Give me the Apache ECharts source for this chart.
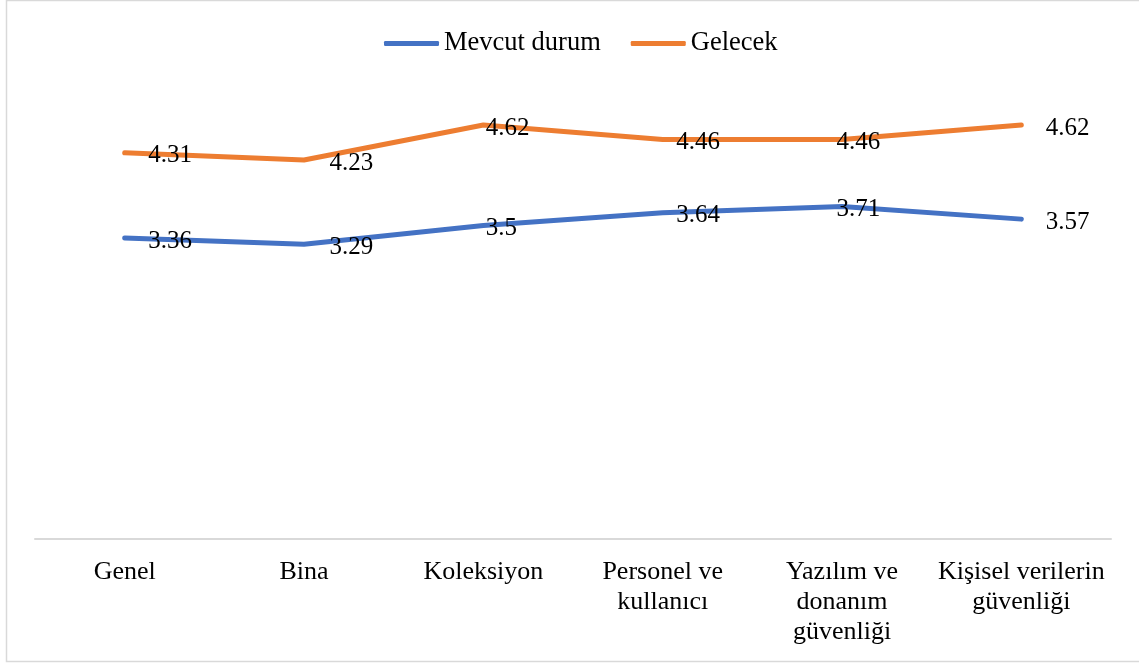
<!DOCTYPE html>
<html>
<head>
<meta charset="utf-8">
<script src="https://cdn.jsdelivr.net/npm/echarts@6/dist/echarts.min.js"></script>
<style>
  html, body { margin: 0; padding: 0; background: #fff; }
  #chart { width: 1139px; height: 664px; }
</style>
</head>
<body>
<div id="chart"></div>
<script>
// kategoriler ve seriler
var categories = ['Genel', 'Bina', 'Koleksiyon', 'Personel ve\nkullanıcı', 'Yazılım ve\ndonanım\ngüvenliği', 'Kişisel verilerin\ngüvenliği'];
var mevcut = [3.36, 3.29, 3.5, 3.64, 3.71, 3.57];
var gelecek = [4.31, 4.23, 4.62, 4.46, 4.46, 4.62];
// etiketlerin yatay kaydırması (Excel'deki gibi)
var labelShift = [23, 25, 2, 13, -6, 24];

var font = "'Liberation Serif', 'Times New Roman', serif";

function withLabels(values) {
	return values.map(function(v, i) {
		return { value: v, label: { offset: [labelShift[i], 3] } };
	});
}

var chart = echarts.init(document.getElementById('chart'));

var option = {
	backgroundColor: '#fff',
	animation: false,
	textStyle: { fontFamily: font },
	graphic: [
		{
			type: 'rect',
			shape: { x: 6.5, y: 0.5, width: 1140, height: 661 },
			style: { fill: 'none', stroke: '#d9d9d9', lineWidth: 1.5 },
			silent: true
		}
	],
	legend: {
		left: 379,
		top: 25,
		icon: 'roundRect',
		itemWidth: 55,
		itemHeight: 5,
		itemGap: 30,
		textStyle: { fontFamily: font, fontSize: 26.5, color: '#000' },
		data: ['Mevcut durum', 'Gelecek']
	},
	grid: {
		left: 35,
		right: 28,
		top: 91,
		bottom: 125
	},
	xAxis: {
		type: 'category',
		data: categories,
		boundaryGap: true,
		axisLine: { lineStyle: { color: '#d9d9d9', width: 2 } },
		axisTick: { show: false },
		axisLabel: {
			interval: 0,
			margin: 18,
			fontFamily: font,
			fontSize: 26,
			lineHeight: 30,
			color: '#000'
		}
	},
	yAxis: {
		type: 'value',
		min: 0,
		max: 5,
		show: false,
		splitLine: { show: false }
	},
	series: [
		{
			name: 'Mevcut durum',
			type: 'line',
			data: withLabels(mevcut),
			symbol: 'circle',
			symbolSize: 1,
			color: '#4472c4',
			lineStyle: { color: '#4472c4', width: 5, cap: 'round' },
			label: {
				show: true,
				position: 'right',
				distance: 0,
				fontFamily: font,
				fontSize: 25,
				color: '#000'
			}
		},
		{
			name: 'Gelecek',
			type: 'line',
			data: withLabels(gelecek),
			symbol: 'circle',
			symbolSize: 1,
			color: '#ed7d31',
			lineStyle: { color: '#ed7d31', width: 5, cap: 'round' },
			label: {
				show: true,
				position: 'right',
				distance: 0,
				fontFamily: font,
				fontSize: 25,
				color: '#000'
			}
		}
	]
};

chart.setOption(option);
</script>
</body>
</html>
